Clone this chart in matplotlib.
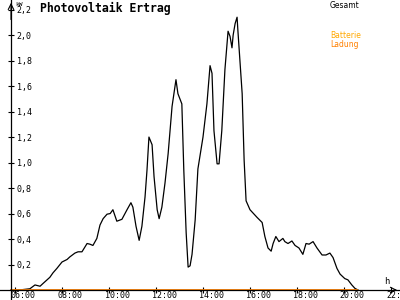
import pandas as pd
import matplotlib
matplotlib.use("Agg")
import matplotlib.pyplot as plt
from matplotlib.transforms import ScaledTranslation

# ===============================
# DATA
# ===============================
zeit = ["05:50", "06:18", "06:38", "06:51", "07:04", "07:11", "07:29", "07:37", "07:47",
        "08:00", "08:13", "08:20", "08:33", "08:41", "08:51", "09:04", "09:11", "09:19",
        "09:29", "09:37", "09:45", "09:55", "10:03", "10:10", "10:20", "10:33", "10:46",
        "10:56", "11:01", "11:09", "11:17", "11:24", "11:32", "11:37", "11:42", "11:50",
        "11:55", "12:03", "12:08", "12:15", "12:23", "12:31", "12:41", "12:51", "12:56",
        "13:06", "13:11", "13:17", "13:22", "13:27", "13:32", "13:40", "13:47", "14:00",
        "14:10", "14:18", "14:23", "14:28", "14:36", "14:41", "14:48", "14:56", "15:04",
        "15:09", "15:14", "15:17", "15:22", "15:27", "15:29", "15:40", "15:45", "15:50",
        "16:00", "16:18", "16:31", "16:38", "16:46", "16:54", "16:59", "17:06", "17:14",
        "17:24", "17:29", "17:37", "17:47", "17:55", "18:05", "18:15", "18:23", "18:31",
        "18:41", "18:51", "19:04", "19:14", "19:24", "19:32", "19:42", "19:50", "20:02",
        "20:10", "20:20", "20:28", "20:36"]
gesamt = [0.0, 0.003, 0.01, 0.04, 0.03, 0.05, 0.10, 0.135, 0.17,
          0.22, 0.24, 0.26, 0.29, 0.30, 0.30, 0.365, 0.36, 0.35,
          0.405, 0.51, 0.56, 0.595, 0.60, 0.63, 0.54, 0.555, 0.63,
          0.685, 0.65, 0.50, 0.39, 0.50, 0.73, 0.94, 1.20, 1.14,
          0.89, 0.63, 0.56, 0.65, 0.84, 1.07, 1.44, 1.65, 1.54,
          1.46, 0.94, 0.45, 0.18, 0.19, 0.28, 0.55, 0.95, 1.20,
          1.46, 1.76, 1.70, 1.25, 0.99, 0.99, 1.25, 1.73, 2.03,
          1.99, 1.90, 2.00, 2.09, 2.14, 2.04, 1.54, 1.02, 0.70,
          0.63, 0.57, 0.53, 0.42, 0.33, 0.305, 0.365, 0.42, 0.38,
          0.405, 0.38, 0.365, 0.385, 0.35, 0.33, 0.28, 0.365, 0.36,
          0.38, 0.33, 0.275, 0.275, 0.29, 0.255, 0.17, 0.125, 0.09,
          0.08, 0.04, 0.013, 0.0]

batt_zeit = ["05:50", "20:33"]
batt_ladung = [0.0, 0.0]

x_ticks = [6, 8, 10, 12, 14, 16, 18, 20, 22]
y_ticks = [0.2, 0.4, 0.6, 0.8, 1.0, 1.2, 1.4, 1.6, 1.8, 2.0, 2.2]


def to_hours(liste):
    t = pd.to_datetime(pd.Series(liste), format="%H:%M")
    return (t.dt.hour + t.dt.minute / 60.0).values


h_ges = to_hours(zeit)
h_bat = to_hours(batt_zeit)

# ===============================
# PLOT
# ===============================
fig = plt.figure(figsize=(4, 3), dpi=100)
ax = fig.add_axes([0, 0, 1, 1])
ax.set_xlim(5.362, 22.383)
ax.set_ylim(-0.078, 2.275)

ax.plot(h_ges, gesamt, color="black", lw=0.9)
ax.plot(h_bat, batt_ladung, color="#FF8000", lw=1.3)

# axes crossing like the original
y_achse = 5.83
for s in ["top", "right"]:
    ax.spines[s].set_visible(False)
ax.spines["left"].set_position(("data", y_achse))
ax.spines["bottom"].set_position(("data", 0))
for s in ["left", "bottom"]:
    ax.spines[s].set_linewidth(0.9)

ax.annotate("", xy=(22.383, 0), xytext=(22.0, 0),
            arrowprops=dict(arrowstyle="->", lw=0.8, color="black"))
ax.annotate("", xy=(y_achse, 2.275), xytext=(y_achse, 2.1),
            arrowprops=dict(arrowstyle="->", lw=0.8, color="black"))

ax.set_xticks(x_ticks)
ax.set_xticklabels(["%02d:00" % h for h in x_ticks])
ax.set_yticks(y_ticks)
ax.set_yticklabels([("%.1f" % v).replace(".", ",") for v in y_ticks])
ax.tick_params(axis="both", direction="inout", length=5, width=0.8,
               labelsize=6.0)
ax.tick_params(axis="x", pad=-1.5)
ax.tick_params(axis="y", pad=-6.5)
for lab in ax.get_xticklabels():
    lab.set_family("DejaVu Sans Mono")
    lab.set_ha("left")
    lab.set_transform(lab.get_transform() + ScaledTranslation(-3 / 72, 0, fig.dpi_scale_trans))
for lab in ax.get_yticklabels():
    lab.set_family("DejaVu Sans Mono")
    lab.set_ha("left")

# texts
fig.text(40 / 400, 1 - 8 / 300, "Photovoltaik Ertrag", family="DejaVu Sans Mono",
         weight="bold", fontsize=8.3, va="center", ha="left")
fig.text(15 / 400, 1 - 4 / 300, "kW", family="DejaVu Sans Mono", fontsize=4.5,
         va="center", ha="left")
fig.text(330 / 400, 1 - 5 / 300, "Gesamt", fontsize=5.5, va="center", ha="left")
fig.text(330 / 400, 1 - 36 / 300, "Batterie", fontsize=5.5, va="center", ha="left",
         color="#FFA800")
fig.text(330 / 400, 1 - 44 / 300, "Ladung", fontsize=5.5, va="center", ha="left",
         color="#FF8000")
fig.text(387 / 400, 1 - 281 / 300, "h", family="DejaVu Sans Mono", fontsize=6.3,
         va="center", ha="center")

plt.savefig("out.png", dpi=100)
